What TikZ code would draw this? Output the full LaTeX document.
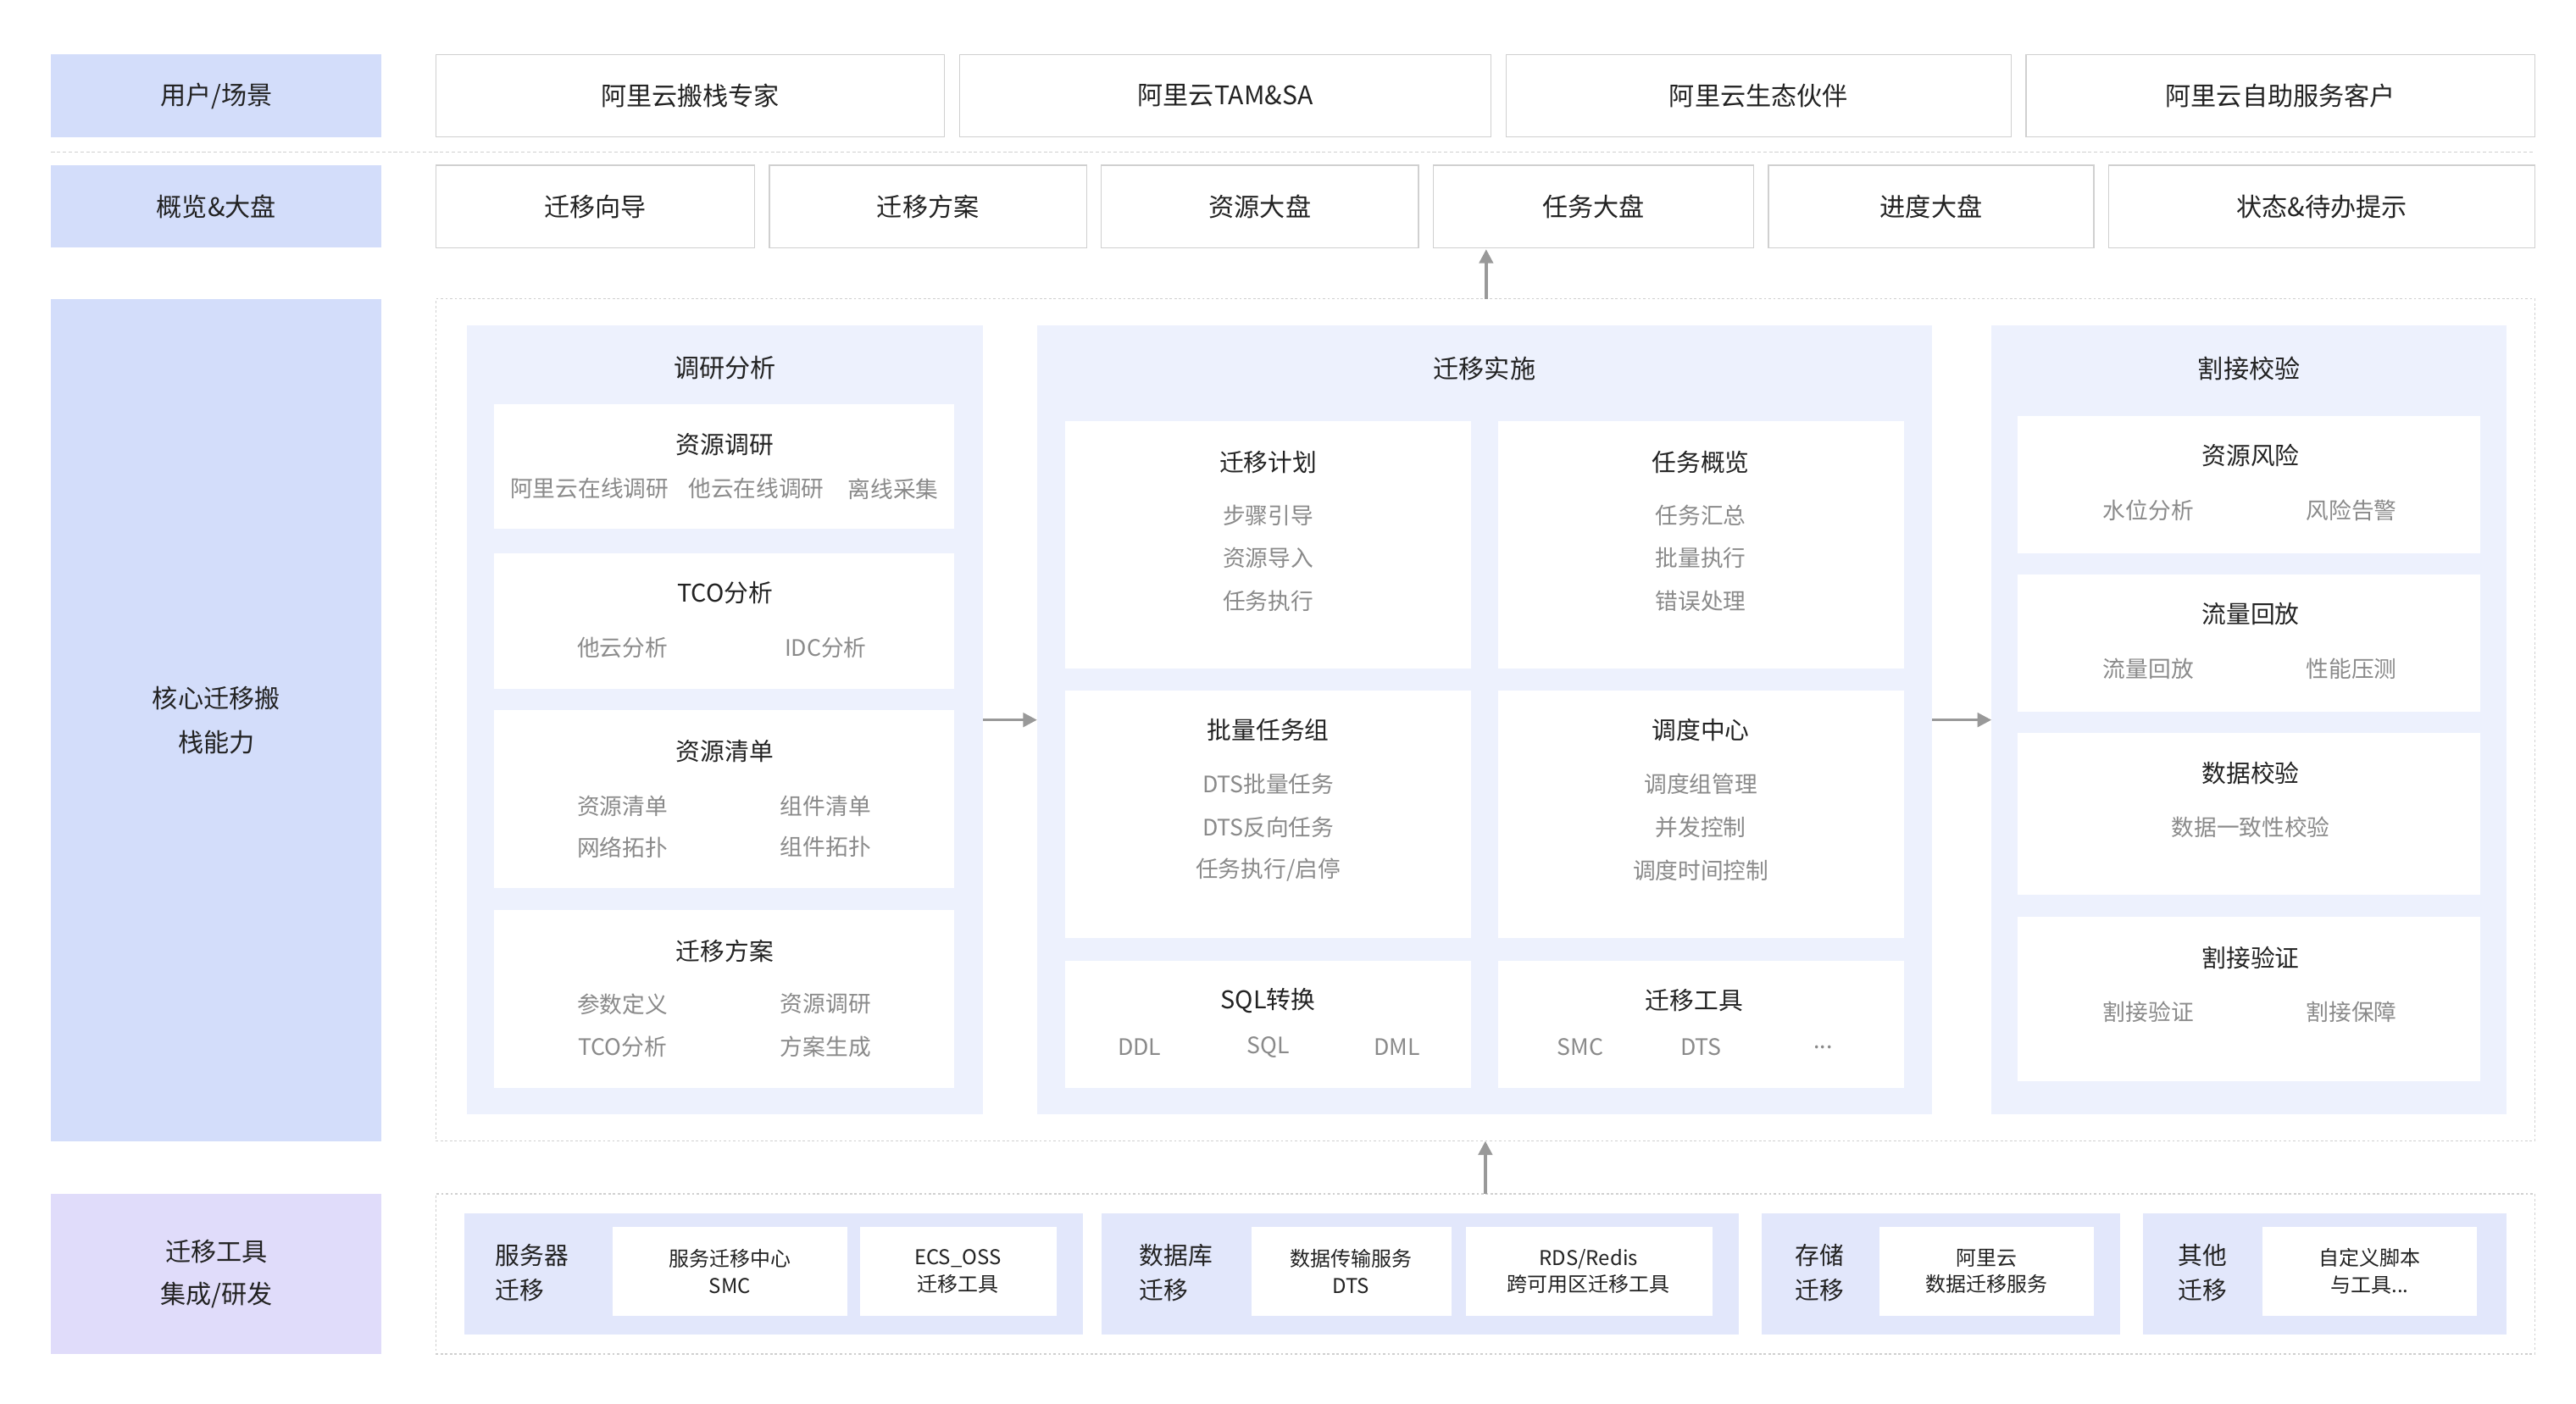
\documentclass[tikz,border=0pt]{standalone}
\usepackage{fontspec}
\setmainfont{Noto Sans CJK SC}
\usetikzlibrary{arrows.meta}
\definecolor{lbl}{HTML}{D3DDFA}
\definecolor{lblp}{HTML}{E0DCFA}
\definecolor{pan}{HTML}{EDF1FD}
\definecolor{grp}{HTML}{E2E7FB}
\definecolor{bd}{HTML}{D0D0D0}
\definecolor{tt}{HTML}{222222}
\definecolor{it}{HTML}{8A8A8A}
\newcommand\bx[7][]{\node[#1,minimum width={(#5-#3)*0.05cm},minimum height={(#6-#4)*0.05cm}] (#2) at ({(#3+#5)/2},{-(#4+#6)/2}) {#7};}
\tikzset{
 box/.style={inner sep=0,outer sep=0,align=center,font=\fontsize{22}{32}\selectfont,text=tt},
 lab/.style={box,fill=lbl},
 labp/.style={box,fill=lblp},
 wb/.style={box,fill=white,draw=bd,line width=1pt},
 pnl/.style={box,fill=pan},
 wi/.style={box,fill=white},
 grpb/.style={box,fill=grp},
 dot/.style={box,draw=bd,dashed,line width=1pt,dash pattern=on 2pt off 2pt},
 ti/.style={text=tt,font=\fontsize{21}{28}\selectfont,inner sep=0},
 pt/.style={text=tt,font=\fontsize{22}{30}\selectfont,inner sep=0},
 itm/.style={text=it,font=\fontsize{19.5}{26}\selectfont,inner sep=0},
 sm/.style={text=tt,font=\fontsize{17.5}{23}\selectfont,inner sep=0,align=center},
 gl/.style={text=tt,font=\fontsize{21}{30}\selectfont,inner sep=0,align=left},
 arr/.style={-{Triangle[length=12pt,width=12pt]},draw=gray!80,line width=2.5pt}
}
\begin{document}
\begin{tikzpicture}[x=0.05cm,y=0.05cm]
\useasboundingbox (0,0) rectangle (1560,-850);
% left labels
\bx[lab]{l1}{31}{33}{231}{83}{用户/场景}
\bx[lab]{l2}{31}{100}{231}{150}{概览\&大盘}
\bx[lab]{l3}{31}{181}{231}{691}{核心迁移搬\\[6pt]栈能力}
\bx[labp]{l4}{31}{723}{231}{820}{迁移工具\\[4pt]集成/研发}
% row 1
\bx[wb]{a1}{264}{33}{572}{83}{阿里云搬栈专家}
\bx[wb]{a2}{581}{33}{903}{83}{阿里云TAM\&SA}
\bx[wb]{a3}{912}{33}{1218}{83}{阿里云生态伙伴}
\bx[wb]{a4}{1227}{33}{1535}{83}{阿里云自助服务客户}
\draw[bd,line width=1pt,dash pattern=on 3pt off 2pt] (31,-92) -- (1535,-92);
% row 2
\bx[wb]{b1}{264}{100}{457}{150}{迁移向导}
\bx[wb]{b2}{466}{100}{658}{150}{迁移方案}
\bx[wb]{b3}{667}{100}{859}{150}{资源大盘}
\bx[wb]{b4}{868}{100}{1062}{150}{任务大盘}
\bx[wb]{b5}{1071}{100}{1268}{150}{进度大盘}
\bx[wb]{b6}{1277}{100}{1535}{150}{状态\&待办提示}
% core
\bx[dot]{core}{264}{181}{1535}{691}{}
\coordinate (ctop) at (900,-181);
\coordinate (b4b) at (900,-151);
\draw[arr] (ctop) -- (b4b);
\bx[pnl]{p1}{283}{197}{595}{675}{}
\bx[pnl]{p2}{628}{197}{1170}{675}{}
\bx[pnl]{p3}{1206}{197}{1518}{675}{}
\node[pt] at (439,-223) {调研分析};
\node[pt] at (899,-223) {迁移实施};
\node[pt] at (1362,-223) {割接校验};
\draw[arr] (p1.east) -- (p2.west);
\draw[arr] (p2.east) -- (p3.west);
% left panel
\bx[wi]{c1}{299}{245}{578}{320}{}
\node[ti] at (439,-269) {资源调研};
\node[itm] at (357,-296) {阿里云在线调研};
\node[itm] at (458,-296) {他云在线调研};
\node[itm] at (541,-296) {离线采集};
\bx[wi]{c2}{299}{335}{578}{417}{}
\node[ti] at (439,-359) {TCO分析};
\node[itm] at (377,-392) {他云分析};
\node[itm] at (500,-392) {IDC分析};
\bx[wi]{c3}{299}{430}{578}{538}{}
\node[ti] at (439,-455) {资源清单};
\node[itm] at (377,-488) {资源清单};
\node[itm] at (500,-488) {组件清单};
\node[itm] at (377,-513) {网络拓扑};
\node[itm] at (500,-513) {组件拓扑};
\bx[wi]{c4}{299}{551}{578}{659}{}
\node[ti] at (439,-576) {迁移方案};
\node[itm] at (377,-608) {参数定义};
\node[itm] at (500,-608) {资源调研};
\node[itm] at (377,-634) {TCO分析};
\node[itm] at (500,-634) {方案生成};
% middle panel
\bx[wi]{d1}{645}{255}{891}{405}{}
\node[ti] at (768,-280) {迁移计划};
\node[itm] at (768,-312) {步骤引导};
\node[itm] at (768,-338) {资源导入};
\node[itm] at (768,-364) {任务执行};
\bx[wi]{d2}{907}{255}{1153}{405}{}
\node[ti] at (1030,-280) {任务概览};
\node[itm] at (1030,-312) {任务汇总};
\node[itm] at (1030,-338) {批量执行};
\node[itm] at (1030,-364) {错误处理};
\bx[wi]{d3}{645}{418}{891}{568}{}
\node[ti] at (768,-442) {批量任务组};
\node[itm] at (768,-475) {DTS批量任务};
\node[itm] at (768,-501) {DTS反向任务};
\node[itm] at (768,-527) {任务执行/启停};
\bx[wi]{d4}{907}{418}{1153}{568}{}
\node[ti] at (1030,-442) {调度中心};
\node[itm] at (1030,-475) {调度组管理};
\node[itm] at (1030,-501) {并发控制};
\node[itm] at (1030,-527) {调度时间控制};
\bx[wi]{d5}{645}{582}{891}{659}{}
\node[ti] at (768,-606) {SQL转换};
\node[itm] at (690,-634) {DDL};
\node[itm] at (768,-634) {SQL};
\node[itm] at (846,-634) {DML};
\bx[wi]{d6}{907}{582}{1153}{659}{}
\node[ti] at (1026,-606) {迁移工具};
\node[itm] at (957,-634) {SMC};
\node[itm] at (1030,-634) {DTS};
\node[itm] at (1104,-634) {...};
% right panel
\bx[wi]{e1}{1222}{252}{1502}{335}{}
\node[ti] at (1363,-276) {资源风险};
\node[itm] at (1301,-309) {水位分析};
\node[itm] at (1424,-309) {风险告警};
\bx[wi]{e2}{1222}{348}{1502}{431}{}
\node[ti] at (1363,-372) {流量回放};
\node[itm] at (1301,-405) {流量回放};
\node[itm] at (1424,-405) {性能压测};
\bx[wi]{e3}{1222}{444}{1502}{542}{}
\node[ti] at (1363,-468) {数据校验};
\node[itm] at (1363,-501) {数据一致性校验};
\bx[wi]{e4}{1222}{555}{1502}{655}{}
\node[ti] at (1363,-580) {割接验证};
\node[itm] at (1301,-613) {割接验证};
\node[itm] at (1424,-613) {割接保障};
% bottom
\bx[dot]{tools}{264}{723}{1535}{820}{}
\draw[arr] (tools.north) -- (core.south);
\bx[grpb]{g1}{281}{735}{656}{808}{}
\bx[grpb]{g2}{667}{735}{1053}{808}{}
\bx[grpb]{g3}{1067}{735}{1284}{808}{}
\bx[grpb]{g4}{1298}{735}{1518}{808}{}
\node[gl,anchor=west] at (300,-771) {服务器\\迁移};
\node[gl,anchor=west] at (690,-771) {数据库\\迁移};
\node[gl,anchor=west] at (1087,-771) {存储\\迁移};
\node[gl,anchor=west] at (1319,-771) {其他\\迁移};
\bx[wi]{h1}{371}{743}{513}{797}{}
\node[sm] at (442,-770) {服务迁移中心\\SMC};
\bx[wi]{h2}{521}{743}{640}{797}{}
\node[sm] at (580,-770) {ECS\_OSS\\迁移工具};
\bx[wi]{h3}{758}{743}{879}{797}{}
\node[sm] at (818,-770) {数据传输服务\\DTS};
\bx[wi]{h4}{888}{743}{1037}{797}{}
\node[sm] at (962,-770) {RDS/Redis\\跨可用区迁移工具};
\bx[wi]{h5}{1138}{743}{1268}{797}{}
\node[sm] at (1203,-770) {阿里云\\数据迁移服务};
\bx[wi]{h6}{1370}{743}{1500}{797}{}
\node[sm] at (1435,-770) {自定义脚本\\与工具...};
\end{tikzpicture}
\end{document}
